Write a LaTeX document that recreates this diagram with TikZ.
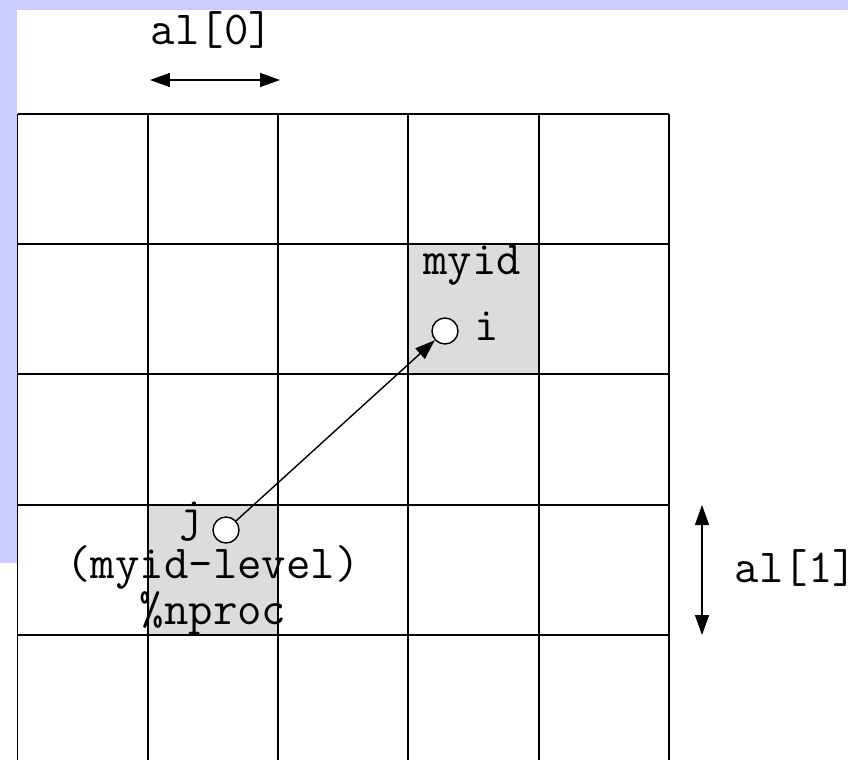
\documentclass[tikz,border=0pt]{standalone}
\usepackage{tikz}
\usetikzlibrary{arrows.meta}
\definecolor{fondolila}{RGB}{204, 204, 255}
\definecolor{celdagris}{RGB}{220, 220, 220}

\begin{document}
\begin{tikzpicture}[x=0.02cm, y=-0.02cm,
	rejilla/.style={line width=1.1pt},
	punto/.style={circle, draw, fill=white, line width=0.8pt, minimum size=0.52cm, inner sep=0pt},
	etiqueta/.style={font=\fontsize{27}{22.8}\selectfont\ttfamily, inner sep=0pt, anchor=base},
	flecha/.style={-{Triangle[length=0.4cm, width=0.28cm]}, line width=0.8pt},
	cota/.style={{Triangle[length=0.4cm, width=0.28cm]}-{Triangle[length=0.4cm, width=0.28cm]}, line width=0.8pt}]
	\useasboundingbox (0,0) rectangle (865,760);
	\clip (0,0) rectangle (865,760);
	% Fondo lila
	\fill[fondolila] (0,0) rectangle (848,10);
	\fill[fondolila] (0,0) rectangle (17,563);
	% Celdas sombreadas
	\fill[celdagris] (408,244) rectangle (538.5,374);
	\fill[celdagris] (148,505) rectangle (278,635);
	% Rejilla de procesos
	\foreach \i in {0,...,5} {
		\draw[rejilla] (17.5+130.3*\i,114) -- (17.5+130.3*\i,780);
	}
	\foreach \j in {0,...,4} {
		\draw[rejilla] (17.5,114+130.2*\j) -- (669,114+130.2*\j);
	}
	% Procesos i y j
	\node[punto] (i) at (445,331) {};
	\node[punto] (j) at (226,530) {};
	\node[etiqueta] (myid) at (472,275) {myid};
	\node[etiqueta] (li) at (487,340) {i};
	\node[etiqueta] (lj) at (192,530) {j};
	\node[etiqueta, align=center] (formula) at (213,624) {(myid-level)\\\%nproc};
	\draw[flecha] (j) -- (i);
	% Cotas
	\coordinate (a0izq) at (150,80);
	\coordinate (a0der) at (280,80);
	\coordinate (a1sup) at (702,505);
	\coordinate (a1inf) at (702,635);
	\draw[cota] (a0izq) -- (a0der);
	\draw[cota] (a1sup) -- (a1inf);
	\node[etiqueta] (al0) at (212,45) {al[0]};
	\node[etiqueta] (al1) at (796,582) {al[1]};
\end{tikzpicture}
\end{document}
